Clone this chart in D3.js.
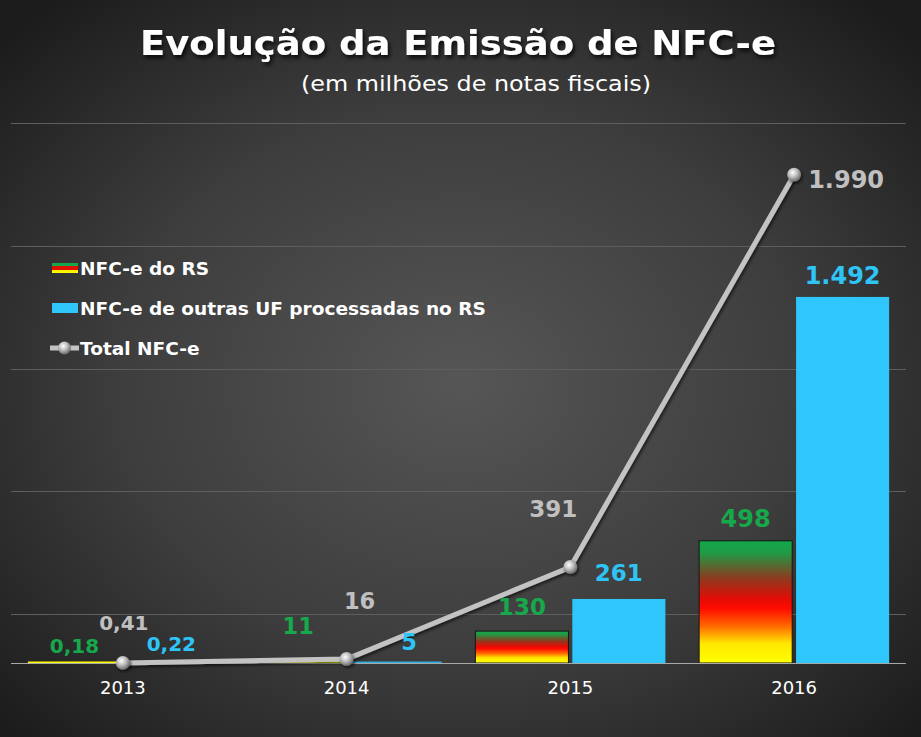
<!DOCTYPE html>
<html>
<head>
<meta charset="utf-8">
<script src="https://cdn.jsdelivr.net/npm/d3@7"></script>
<style>
  html, body { margin: 0; padding: 0; background: #2a2a2a; }
  svg { display: block; }
</style>
</head>
<body>
<svg id="chart" width="921" height="737"></svg>
<script>
// ---- data ----
const years = ["2013", "2014", "2015", "2016"];
const seriesKeys = ["rs", "outras"];
const rsValues = [0.18, 11, 130, 498];
const outrasValues = [0.22, 5, 261, 1492];
const totalValues = [0.41, 16, 391, 1990];
const rsLabels = ["0,18", "11", "130", "498"];
const outrasLabels = ["0,22", "5", "261", "1.492"];
const totalLabels = ["0,41", "16", "391", "1.990"];
const gridValues = [200, 700, 1200, 1700, 2200];
const legendNames = ["NFC-e do RS", "NFC-e de outras UF processadas no RS", "Total NFC-e"];
const titleText = "Evolução da Emissão de NFC-e";
const subtitleText = "(em milhões de notas fiscais)";

// ---- layout ----
const W = 921, H = 737;
const svg = d3.select("#chart");
const defs = svg.append("defs");
const FONT = "'DejaVu Sans', Verdana, sans-serif";

// background
const bg = defs.append("radialGradient").attr("id", "bg")
  .attr("cx", "50%").attr("cy", "52%").attr("r", "68%");
bg.append("stop").attr("offset", "0%").attr("stop-color", "#565656");
bg.append("stop").attr("offset", "55%").attr("stop-color", "#3d3d3d");
bg.append("stop").attr("offset", "100%").attr("stop-color", "#1c1c1c");
svg.append("rect").attr("width", W).attr("height", H).attr("fill", "url(#bg)");

// RS gradient
function rsGrad(id) {
  const g = defs.append("linearGradient").attr("id", id)
    .attr("x1", 0).attr("y1", 0).attr("x2", 0).attr("y2", 1);
  [[0, "#13a84b"], [0.1, "#1f9a45"], [0.3, "#8a3d20"], [0.47, "#e00d06"], [0.55, "#ff0a00"],
   [0.7, "#ff6a00"], [0.84, "#ffe800"], [1, "#ffff00"]].forEach(([o, c]) =>
    g.append("stop").attr("offset", o).attr("stop-color", c));
}
rsGrad("rsGrad");
const lg = defs.append("linearGradient").attr("id", "rsLegend")
  .attr("x1", 0).attr("y1", 0).attr("x2", 0).attr("y2", 1);
[[0, "#13a84b"], [0.33, "#13a84b"], [0.34, "#e01000"], [0.66, "#e01000"], [0.67, "#ffe800"], [1, "#ffff00"]]
  .forEach(([o, c]) => lg.append("stop").attr("offset", o).attr("stop-color", c));

// sphere gradient
const sg = defs.append("radialGradient").attr("id", "sphere")
  .attr("cx", "40%").attr("cy", "35%").attr("r", "65%");
sg.append("stop").attr("offset", "0%").attr("stop-color", "#ffffff");
sg.append("stop").attr("offset", "45%").attr("stop-color", "#c4c4c4");
sg.append("stop").attr("offset", "100%").attr("stop-color", "#6a6a6a");

// shadows
const sh = defs.append("filter").attr("id", "shadow").attr("x", "-20%").attr("y", "-20%").attr("width", "140%").attr("height", "160%");
sh.append("feDropShadow").attr("dx", 2).attr("dy", 3).attr("stdDeviation", 2).attr("flood-color", "#000").attr("flood-opacity", 0.8);
const sh2 = defs.append("filter").attr("id", "lshadow").attr("x", "-20%").attr("y", "-20%").attr("width", "140%").attr("height", "140%");
sh2.append("feDropShadow").attr("dx", 1.5).attr("dy", 2).attr("stdDeviation", 1.5).attr("flood-color", "#000").attr("flood-opacity", 0.6);

// scales
const x0 = d3.scaleBand().domain(years).range([11, 906]).paddingInner(0).paddingOuter(0);
const x1 = d3.scaleBand().domain(seriesKeys).range([0, x0.bandwidth()]).paddingInner(0.04).paddingOuter(0.174);
const y = d3.scaleLinear().domain([0, 2200]).range([663, 663 - 2200 * 0.24535]);

// gridlines
svg.append("g").selectAll("line").data(gridValues).join("line")
  .attr("x1", 11).attr("x2", 906)
  .attr("y1", d => Math.round(y(d)) + 0.5).attr("y2", d => Math.round(y(d)) + 0.5)
  .attr("stroke", "#5e5e5e").attr("stroke-width", 1);

// bars
const barData = years.flatMap((yr, i) => [
  { yr, key: "rs", v: rsValues[i] },
  { yr, key: "outras", v: outrasValues[i] }
]);
const barColor = { rs: "url(#rsGrad)", outras: "#2fc6fc" };
const tinyColor = { rs: "#ffff00", outras: "#2fb0e0" };
svg.append("g").selectAll("rect").data(barData).join("rect")
  .attr("x", d => x0(d.yr) + x1(d.key))
  .attr("width", x1.bandwidth())
  .attr("y", d => Math.min(y(d.v), y(0) - 1.5))
  .attr("height", d => Math.max(y(0) - y(d.v), 1.5))
  .attr("fill", d => (y(0) - y(d.v)) < 4 ? tinyColor[d.key] : barColor[d.key])
  .attr("stroke", d => d.key === "rs" && (y(0) - y(d.v)) > 4 ? "#151515" : "none")
  .attr("stroke-width", 1);

// baseline
svg.append("line").attr("x1", 11).attr("x2", 906).attr("y1", 663.5).attr("y2", 663.5)
  .attr("stroke", "#a8a8a8").attr("stroke-width", 1);

// total line
const lineGen = d3.line().x((d, i) => x0(years[i]) + x0.bandwidth() / 2).y(d => y(d));
svg.append("path").datum(totalValues).attr("d", lineGen)
  .attr("fill", "none").attr("stroke", "#c3c3c3").attr("stroke-width", 5)
  .attr("stroke-linejoin", "round").attr("filter", "url(#lshadow)");
svg.append("g").selectAll("circle").data(totalValues).join("circle")
  .attr("cx", (d, i) => x0(years[i]) + x0.bandwidth() / 2)
  .attr("cy", d => y(d)).attr("r", 7)
  .attr("fill", "url(#sphere)").attr("filter", "url(#lshadow)");

// data labels
const labelSize = [20, 22.5, 23, 24];
// manual label nudges (like the hand-placed labels in the original)
const rsNudge = [[0, 17], [0, 34], [0, 24], [0, 22]];
const outNudge = [[0, 19], [14, 20], [0, 26], [0, 21]];
const totNudge = [[1, 40], [13, 58], [-17, 58], [null, 0]];
const lab = svg.append("g").attr("font-family", FONT).attr("font-weight", "bold")
  .attr("dominant-baseline", "central");
years.forEach((yr, i) => {
  const cRs = x0(yr) + x1("rs") + x1.bandwidth() / 2;
  const cOut = x0(yr) + x1("outras") + x1.bandwidth() / 2;
  const cx = x0(yr) + x0.bandwidth() / 2;
  lab.append("text").text(rsLabels[i]).attr("x", cRs + rsNudge[i][0]).attr("y", y(rsValues[i]) - rsNudge[i][1])
    .attr("text-anchor", "middle").attr("fill", "#17a84b").attr("font-size", labelSize[i]);
  lab.append("text").text(outrasLabels[i]).attr("x", cOut + outNudge[i][0]).attr("y", y(outrasValues[i]) - outNudge[i][1])
    .attr("text-anchor", "middle").attr("fill", "#2ec4f6").attr("font-size", labelSize[i]);
  const t = lab.append("text").text(totalLabels[i]).attr("fill", "#c0c0c0").attr("font-size", labelSize[i]);
  if (totNudge[i][0] === null) {
    t.attr("x", cx + 14).attr("y", y(totalValues[i]) + 5).attr("text-anchor", "start");
  } else {
    t.attr("x", cx + totNudge[i][0]).attr("y", y(totalValues[i]) - totNudge[i][1]).attr("text-anchor", "middle");
  }
});

// x axis labels
const xAxis = d3.axisBottom(x0).tickSize(0).tickPadding(0);
const ax = svg.append("g").attr("transform", "translate(0,663)").call(xAxis);
ax.select(".domain").remove();
ax.selectAll("text").attr("font-family", FONT).attr("font-size", 18).attr("fill", "#ffffff")
  .attr("dy", null).attr("y", 24).attr("dominant-baseline", "central");

// title
svg.append("text").text(titleText).attr("x", 458).attr("y", 55)
  .attr("text-anchor", "middle").attr("font-family", FONT).attr("font-weight", "bold")
  .attr("font-size", 33).attr("textLength", 636).attr("lengthAdjust", "spacingAndGlyphs")
  .attr("fill", "#ffffff").attr("filter", "url(#shadow)");
svg.append("text").text(subtitleText).attr("x", 476).attr("y", 91)
  .attr("text-anchor", "middle").attr("font-family", FONT)
  .attr("font-size", 22).attr("textLength", 350).attr("lengthAdjust", "spacingAndGlyphs")
  .attr("fill", "#ffffff");

// legend
const leg = svg.append("g").attr("font-family", FONT).attr("font-weight", "bold");
const legY = [268, 308, 348];
leg.append("rect").attr("x", 52).attr("y", legY[0] - 5).attr("width", 26).attr("height", 10).attr("fill", "url(#rsLegend)");
leg.append("rect").attr("x", 52).attr("y", legY[1] - 5).attr("width", 26).attr("height", 10).attr("fill", "#2fc6fc");
leg.append("line").attr("x1", 50).attr("x2", 79).attr("y1", legY[2]).attr("y2", legY[2])
  .attr("stroke", "#c3c3c3").attr("stroke-width", 5);
leg.append("circle").attr("cx", 64.5).attr("cy", legY[2]).attr("r", 6.5).attr("fill", "url(#sphere)");
legendNames.forEach((n, i) => {
  const t = leg.append("text").text(n).attr("x", 80).attr("y", legY[i]).attr("dominant-baseline", "central")
    .attr("font-size", 18).attr("fill", "#ffffff");
  const len = t.node().getComputedTextLength();
  t.attr("textLength", len * 1.03).attr("lengthAdjust", "spacingAndGlyphs");
});
</script>
</body>
</html>
